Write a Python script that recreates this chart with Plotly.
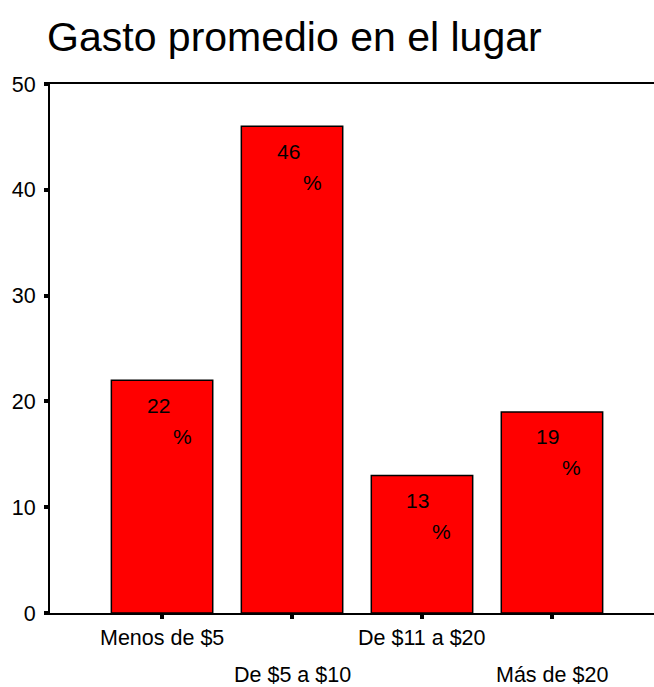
import plotly.graph_objects as go

# datos del gráfico
categorias = ["Menos de $5", "De $5 a $10", "De $11 a $20", "Más de $20"]
porcentajes = [22, 46, 13, 19]
y_ticks = [0, 10, 20, 30, 40, 50]

FONT = "Liberation Sans, Arial, sans-serif"

fig = go.Figure()

fig.add_trace(go.Bar(
    x=list(range(len(categorias))),
    y=porcentajes,
    width=0.78,
    marker=dict(color="#ff0000", line=dict(color="black", width=1.5)),
    hoverinfo="skip",
))

annotations = []
for i, (cat, val) in enumerate(zip(categorias, porcentajes)):
    # número y signo de porcentaje dentro de la barra
    annotations.append(dict(
        x=i, y=val, xref="x", yref="y", text=str(val), showarrow=False,
        xshift=-4, yshift=-25, font=dict(family=FONT, size=21, color="black"),
    ))
    annotations.append(dict(
        x=i, y=val, xref="x", yref="y", text="%", showarrow=False,
        xshift=20, yshift=-56, font=dict(family=FONT, size=21, color="black"),
    ))
    # etiquetas del eje x en dos filas alternadas
    annotations.append(dict(
        x=i, y=0, xref="x", yref="paper", text=cat, showarrow=False,
        yanchor="middle", yshift=-25 if i % 2 == 0 else -62,
        font=dict(family=FONT, size=21.5, color="black"),
    ))

fig.update_layout(
    width=654, height=687,
    paper_bgcolor="white", plot_bgcolor="white",
    margin=dict(l=50, r=0, t=84, b=74),
    showlegend=False,
    title=dict(
        text="Gasto promedio en el lugar",
        x=0.072, xanchor="left", y=0.946, yanchor="middle",
        font=dict(family=FONT, size=41, color="black"),
    ),
    annotations=annotations,
    font=dict(family=FONT, color="black"),
)

fig.update_xaxes(
    range=[-0.862, 3.785],
    tickvals=list(range(len(categorias))),
    showticklabels=False,
    ticks="outside", ticklen=4, tickwidth=4, tickcolor="black",
    showline=True, linecolor="black", linewidth=2, mirror=True,
    showgrid=False, zeroline=False,
)

fig.update_yaxes(
    range=[0, 50],
    tickvals=y_ticks,
    ticks="outside", ticklen=4, tickwidth=4, tickcolor="black",
    tickfont=dict(family=FONT, size=21.5, color="black"),
    ticklabelstandoff=4,
    showline=True, linecolor="black", linewidth=2, mirror=False,
    showgrid=False, zeroline=False,
)

# sin margen del body para que la figura empiece en la esquina
fig.write_html(
    "out.html",
    config={"displayModeBar": False},
    post_script="document.body.style.margin='0';",
)
